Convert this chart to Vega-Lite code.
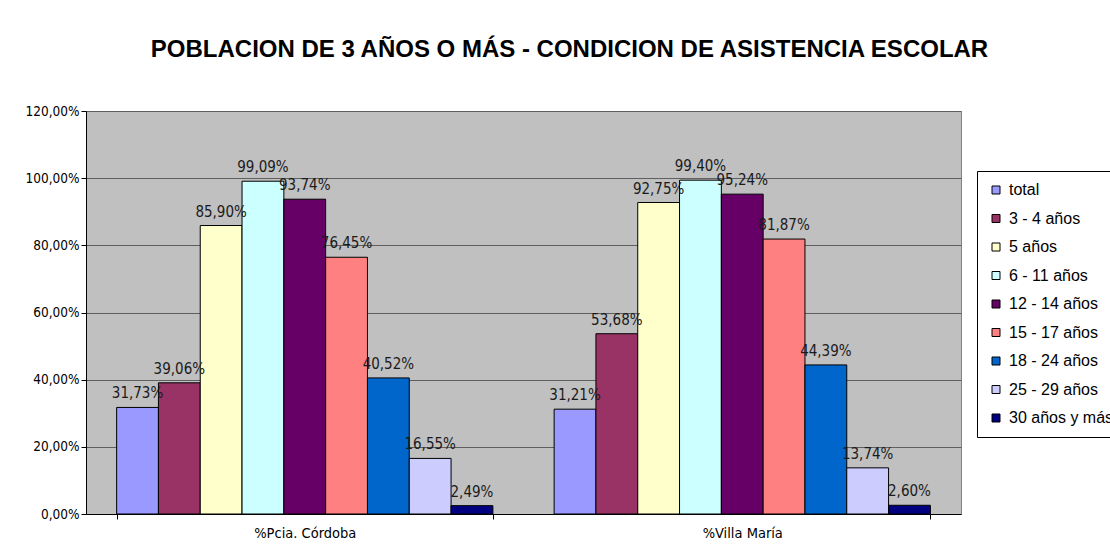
{
  "$schema": "https://vega.github.io/schema/vega-lite/v6.json",
  "width": 875,
  "height": 403,
  "padding": {"left": 24, "top": 38, "right": 0, "bottom": 0},
  "background": "white",
  "title": {
    "text": "POBLACION DE 3 AÑOS O MÁS - CONDICION DE ASISTENCIA ESCOLAR",
    "font": "Liberation Sans",
    "fontSize": 24,
    "fontWeight": "bold",
    "color": "#000000",
    "anchor": "middle",
    "frame": "group",
    "dx": 46,
    "offset": 42
  },
  "data": {
    "values": [
      {"lugar": "%Pcia. Córdoba", "grupo": "total", "valor": 0.3173},
      {"lugar": "%Pcia. Córdoba", "grupo": "3 - 4 años", "valor": 0.3906},
      {"lugar": "%Pcia. Córdoba", "grupo": "5 años", "valor": 0.8590},
      {"lugar": "%Pcia. Córdoba", "grupo": "6 - 11 años", "valor": 0.9909},
      {"lugar": "%Pcia. Córdoba", "grupo": "12 - 14 años", "valor": 0.9374},
      {"lugar": "%Pcia. Córdoba", "grupo": "15 - 17 años", "valor": 0.7645},
      {"lugar": "%Pcia. Córdoba", "grupo": "18 - 24 años", "valor": 0.4052},
      {"lugar": "%Pcia. Córdoba", "grupo": "25 - 29 años", "valor": 0.1655},
      {"lugar": "%Pcia. Córdoba", "grupo": "30 años y más", "valor": 0.0249},
      {"lugar": "%Villa María", "grupo": "total", "valor": 0.3121},
      {"lugar": "%Villa María", "grupo": "3 - 4 años", "valor": 0.5368},
      {"lugar": "%Villa María", "grupo": "5 años", "valor": 0.9275},
      {"lugar": "%Villa María", "grupo": "6 - 11 años", "valor": 0.9940},
      {"lugar": "%Villa María", "grupo": "12 - 14 años", "valor": 0.9524},
      {"lugar": "%Villa María", "grupo": "15 - 17 años", "valor": 0.8187},
      {"lugar": "%Villa María", "grupo": "18 - 24 años", "valor": 0.4439},
      {"lugar": "%Villa María", "grupo": "25 - 29 años", "valor": 0.1374},
      {"lugar": "%Villa María", "grupo": "30 años y más", "valor": 0.0260}
    ]
  },
  "encoding": {
    "x": {
      "field": "lugar",
      "type": "nominal",
      "sort": null,
      "title": null,
      "scale": {"paddingInner": 0.14, "paddingOuter": 0.07},
      "axis": {
        "labelAngle": 0,
        "tickBand": "extent",
        "ticks": true,
        "tickSize": 5,
        "tickColor": "#000000",
        "domainColor": "#000000",
        "labelFont": "DejaVu Sans Condensed, Liberation Sans",
        "labelFontSize": 14.5,
        "labelColor": "#000000",
        "labelPadding": 7,
        "grid": false
      }
    },
    "xOffset": {
      "field": "grupo",
      "type": "nominal",
      "sort": ["total", "3 - 4 años", "5 años", "6 - 11 años", "12 - 14 años", "15 - 17 años", "18 - 24 años", "25 - 29 años", "30 años y más"],
      "scale": {"paddingInner": 0, "paddingOuter": 0}
    },
    "y": {
      "field": "valor",
      "type": "quantitative",
      "title": null,
      "scale": {"domain": [0, 1.2], "nice": false},
      "axis": {
        "values": [0, 0.2, 0.4, 0.6, 0.8, 1.0, 1.2],
        "format": ".2%",
        "grid": true,
        "gridColor": "#5f5f5f",
        "gridWidth": 1,
        "tickColor": "#000000",
        "tickSize": 5,
        "domainColor": "#000000",
        "labelFont": "DejaVu Sans Condensed, Liberation Sans",
        "labelFontSize": 13.5,
        "labelColor": "#000000",
        "labelPadding": 2
      }
    }
  },
  "layer": [
    {
      "mark": {"type": "bar", "stroke": "#000000", "strokeWidth": 1},
      "encoding": {
        "color": {
          "field": "grupo",
          "type": "nominal",
          "sort": ["total", "3 - 4 años", "5 años", "6 - 11 años", "12 - 14 años", "15 - 17 años", "18 - 24 años", "25 - 29 años", "30 años y más"],
          "scale": {
            "domain": ["total", "3 - 4 años", "5 años", "6 - 11 años", "12 - 14 años", "15 - 17 años", "18 - 24 años", "25 - 29 años", "30 años y más"],
            "range": ["#9999FF", "#993366", "#FFFFCC", "#CCFFFF", "#660066", "#FF8080", "#0066CC", "#CCCCFF", "#000080"]
          },
          "legend": {
            "title": null,
            "orient": "none",
            "legendX": 891,
            "legendY": 60,
            "strokeColor": "#000000",
            "padding": 11,
            "symbolType": "square",
            "symbolSize": 64,
            "symbolStrokeColor": "#000000",
            "symbolStrokeWidth": 1,
            "labelFont": "Liberation Sans",
            "labelFontSize": 16,
            "labelColor": "#000000",
            "labelOffset": 5,
            "rowPadding": 12.5,
            "labelLimit": 300
          }
        }
      }
    },
    {
      "mark": {"type": "text", "baseline": "bottom", "dy": -6, "font": "DejaVu Sans Condensed, Liberation Sans", "fontSize": 15, "color": "#1a1a1a"},
      "encoding": {
        "text": {"field": "valor", "type": "quantitative", "format": ".2%"}
      }
    }
  ],
  "config": {
    "locale": {"number": {"decimal": ",", "thousands": ".", "grouping": [3], "currency": ["$", ""]}},
    "view": {"fill": "#C0C0C0", "stroke": "#808080", "strokeWidth": 1},
    "axis": {"domainWidth": 1, "tickWidth": 1}
  }
}
